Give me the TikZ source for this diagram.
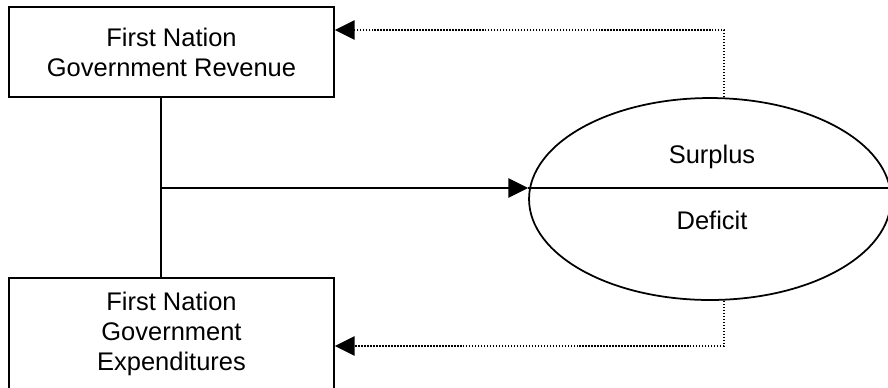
\documentclass[tikz,border=0pt]{standalone}
\usepackage{fontspec}
\setmainfont{Liberation Sans}
\usetikzlibrary{arrows.meta,shapes.geometric,positioning}
\tikzset {
  >={Triangle[length=11.3pt,width=11pt]},
  every node/.style={font=\fontsize{14.5}{17}\selectfont},
  block/.style={draw,line width=1pt,minimum width=6.5cm,align=center,inner sep=0pt},
  feedback/.style={->,line width=0.9pt,dash pattern=on 0.85pt off 0.85pt},
}

\begin{document}
\begin{tikzpicture}[x=0.02cm,y=-0.02cm,line width=1pt]
  \useasboundingbox (0,0) rectangle (888,387);
  \clip (0,0) rectangle (888,387);

  \node[block,minimum height=1.8cm] (revenue) at (171.5,52) {First Nation\\Government Revenue};
  \node[block,minimum height=2.24cm] (expend) at (171.5,334) {First Nation\\Government\\Expenditures};
  \node[draw,ellipse,line width=1pt,minimum width=7.24cm,minimum height=4.04cm,inner sep=0pt] (balance) at (710,199) {};
  \node[anchor=base] (surplus) at (712,163) {Surplus};
  \node[anchor=base] (deficit) at (712,229) {Deficit};

  % both blocks join and flow into the balance
  \coordinate (split) at (161,188);
  \draw (split |- revenue.south) -- (split |- expend.north);
  \draw[->] (split) -- (split -| balance.west);
  \draw[line width=0.8pt] (split -| balance.west) -- (split -| balance.east);

  % balance fed back to revenue and expenditures
  \draw[feedback] ([xshift=0.28cm]balance.north) |- (revenue.east |- 0,30);
  \draw[feedback] ([xshift=0.28cm]balance.south) |- (expend.east |- 0,346);
\end{tikzpicture}
\end{document}
